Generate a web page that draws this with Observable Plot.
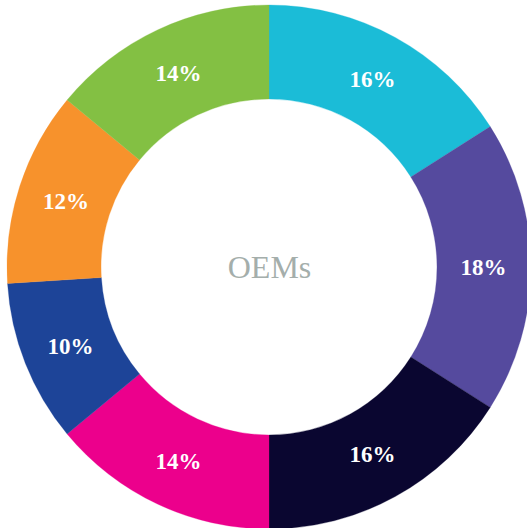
<!DOCTYPE html>
<html>
<head>
<meta charset="utf-8">
<script src="https://cdn.jsdelivr.net/npm/d3@7"></script>
<script src="https://cdn.jsdelivr.net/npm/@observablehq/plot@0.6"></script>
<style>
  html, body { margin: 0; padding: 0; background: #ffffff; }
  #chart svg { display: block; }
</style>
</head>
<body>
<div id="chart"></div>
<script>
// Data (clockwise from 12 o'clock)
const segments = ["S1", "S2", "S3", "S4", "S5", "S6", "S7"];
const shares = [16, 18, 16, 14, 10, 12, 14];
const palette = ["#1bbcd7", "#554a9e", "#0a0630", "#ec008c", "#1d4498", "#f7922c", "#83c043"];
const centerLabel = "OEMs";

const W = 527, H = 528;
const cx = 269, cy = 267, R = 262;      // pixel geometry of ring
const innerRatio = 168 / 262;
const labelRatio = 214 / 262;

const rows = segments.map((s, i) => ({segment: s, value: shares[i], label: shares[i] + "%"}));
const arcs = d3.pie().sort(null).value(d => d.value)(rows);
const labels = arcs.map(a => {
  const m = (a.startAngle + a.endAngle) / 2;
  return {segment: a.data.segment, label: a.data.label, x: labelRatio * Math.sin(m), y: labelRatio * Math.cos(m)};
});

function ringMark(index, scales) {
  const x0 = scales.x(0), y0 = scales.y(0);
  const unit = scales.x(1) - scales.x(0);
  const arcGen = d3.arc().innerRadius(unit * innerRatio).outerRadius(unit);
  const g = d3.create("svg:g").attr("transform", `translate(${x0},${y0})`);
  g.selectAll("path")
    .data(arcs)
    .join("path")
    .attr("d", arcGen)
    .attr("fill", d => scales.color(d.data.segment))
    .attr("stroke", d => scales.color(d.data.segment))
    .attr("stroke-width", 0.3);
  return g.node();
}

const chart = Plot.plot({
  width: W,
  height: H,
  margin: 0,
  style: {background: "#ffffff"},
  x: {domain: [-cx / R, (W - cx) / R], axis: null},
  y: {domain: [-(H - cy) / R, cy / R], axis: null},
  color: {domain: segments, range: palette},
  marks: [
    ringMark,
    Plot.text(labels, {
      x: "x", y: "y", text: "label",
      fill: "#ffffff",
      fontFamily: "Liberation Serif",
      fontWeight: "bold",
      fontSize: 23
    }),
    Plot.text([centerLabel], {
      x: () => 0, y: () => 0, text: d => d,
      fill: "#a4aeab",
      fontFamily: "Liberation Serif",
      fontSize: 32
    })
  ]
});
document.getElementById("chart").appendChild(chart);
</script>
</body>
</html>
